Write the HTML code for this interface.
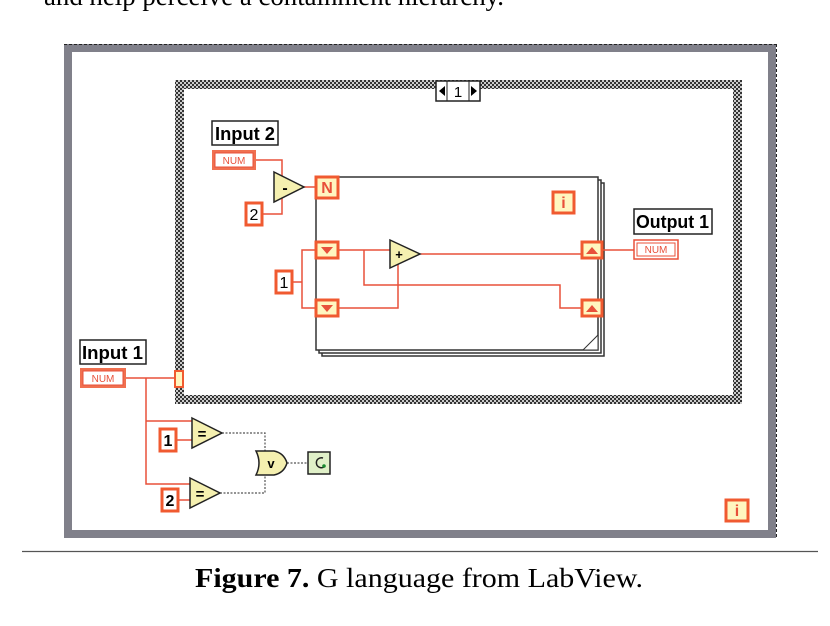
<!DOCTYPE html>
<html><head><meta charset="utf-8"><style>
html,body{margin:0;padding:0;background:#fff;width:830px;height:626px;overflow:hidden}
svg{display:block}
</style></head><body>
<svg width="830" height="626" viewBox="0 0 830 626" xmlns="http://www.w3.org/2000/svg">
<defs>
<pattern id="chk" width="4" height="4" patternUnits="userSpaceOnUse"><rect width="4" height="4" fill="#ccc"/><rect width="2" height="2" fill="#333"/><rect x="2" y="2" width="2" height="2" fill="#333"/></pattern>
</defs>
<text x="44" y="5" font-family="Liberation Serif, serif" font-size="27" textLength="460" lengthAdjust="spacingAndGlyphs" fill="#000">and help perceive a containment hierarchy.</text>
<g>
<rect x="64" y="44" width="712" height="494" fill="#80808a"/>
<rect x="72" y="52" width="696" height="478" fill="#fff"/>
<line x1="64" y1="44.5" x2="776" y2="44.5" stroke="#222" stroke-dasharray="3,2"/>
<line x1="776.5" y1="44" x2="776.5" y2="538" stroke="#222" stroke-dasharray="3,2"/>
</g>
<g>
<rect x="175" y="80" width="567" height="324" fill="url(#chk)"/>
<rect x="184" y="89" width="549" height="306" fill="#fff"/>
</g>
<g>
<rect x="436" y="81" width="44" height="20" fill="#fff" stroke="#222" stroke-width="1.5"/>
<line x1="447" y1="81" x2="447" y2="101" stroke="#222"/><line x1="469" y1="81" x2="469" y2="101" stroke="#222"/>
<polygon points="439,91 445,86 445,96" fill="#000"/><polygon points="477,91 471,86 471,96" fill="#000"/>
<text x="458" y="97" text-anchor="middle" font-family="Liberation Sans, sans-serif" font-size="15">1</text>
</g>
<g>
<rect x="322" y="183" width="282" height="173" fill="#fff" stroke="#333" stroke-width="1.5"/>
<rect x="319" y="180" width="282" height="173" fill="#fff" stroke="#333" stroke-width="1.5"/>
<rect x="316" y="177" width="282" height="173" fill="#fff" stroke="#333" stroke-width="1.5"/>
<polygon points="583,350 598,335 598,350" fill="#fff" stroke="#333"/>
</g>
<g fill="none" stroke="#e8503a" stroke-width="1.5">
<polyline points="256,160 282,160 282,180 276,180"/>
<polyline points="262,214 282,214 282,195 276,195"/>
<line x1="304" y1="187" x2="316" y2="187"/>
<polyline points="292,282 302,282"/>
<polyline points="316,250 302,250 302,308 316,308"/>
<polyline points="338,250 392,250"/>
<polyline points="364,250 364,285 560,285 560,308 582,308"/>
<polyline points="338,308 398,308 398,264"/>
<line x1="420" y1="254" x2="582" y2="254"/>
<line x1="602" y1="250" x2="634" y2="250"/>
<polyline points="126,378 178,378"/>
<polyline points="146,378 146,484 192,484"/>
<polyline points="146,421 194,421"/>
<line x1="176" y1="440" x2="194" y2="440"/>
<line x1="178" y1="500" x2="192" y2="500"/>
</g>
<g fill="none" stroke="#555" stroke-width="1.2" stroke-dasharray="2,1.5">
<polyline points="222,433 265,433 265,454"/>
<polyline points="220,493 265,493 265,472"/>
<line x1="287" y1="463" x2="308" y2="463"/>
</g>
<g font-family="Liberation Sans, sans-serif" font-weight="bold" font-size="18">
<g><rect x="212" y="121" width="66" height="24" fill="#fff" stroke="#222" stroke-width="1.5"/><text x="215" y="140" textLength="60" lengthAdjust="spacingAndGlyphs">Input 2</text></g>
<g><rect x="634" y="209" width="78" height="25" fill="#fff" stroke="#222" stroke-width="1.5"/><text x="636" y="228" textLength="73" lengthAdjust="spacingAndGlyphs">Output 1</text></g>
<g><rect x="80" y="340" width="66" height="24" fill="#fff" stroke="#222" stroke-width="1.5"/><text x="82" y="359" textLength="61" lengthAdjust="spacingAndGlyphs">Input 1</text></g>
</g>
<g font-family="Liberation Sans, sans-serif" font-size="10" fill="#e8503a" text-anchor="middle">
<g><rect x="212" y="150" width="44" height="20" fill="#f07050"/><rect x="215" y="153" width="38" height="14" fill="#fff" stroke="#e8503a"/><text x="234" y="164">NUM</text></g>
<g><rect x="80" y="368" width="46" height="20" fill="#f07050"/><rect x="83" y="371" width="40" height="14" fill="#fff" stroke="#e8503a"/><text x="103" y="382">NUM</text></g>
<g><rect x="634" y="240" width="44" height="19" fill="#fff" stroke="#e8503a" stroke-width="1.5"/><rect x="637" y="243" width="38" height="13" fill="#fff" stroke="#e8503a"/><text x="656" y="253">NUM</text></g>
</g>
<g font-family="Liberation Sans, sans-serif" font-size="16" text-anchor="middle">
<g><rect x="246" y="203" width="16" height="22" fill="#fff" stroke="#f05a30" stroke-width="3"/><text x="254" y="220">2</text></g>
<g><rect x="276" y="271" width="16" height="22" fill="#fff" stroke="#f05a30" stroke-width="3"/><text x="284" y="288">1</text></g>
<g><rect x="160" y="429" width="16" height="22" fill="#fff" stroke="#f05a30" stroke-width="3"/><text x="168" y="446" font-weight="bold">1</text></g>
<g><rect x="162" y="489" width="16" height="22" fill="#fff" stroke="#f05a30" stroke-width="3"/><text x="170" y="506" font-weight="bold">2</text></g>
<g><rect x="316" y="177" width="22" height="21" fill="#fff6c0" stroke="#f05a30" stroke-width="3"/><text x="327" y="193" fill="#e8503a" font-weight="bold">N</text></g>
<g><rect x="553" y="192" width="21" height="21" fill="#fff6c0" stroke="#f05a30" stroke-width="3"/><text x="563.5" y="208" fill="#e8503a" font-weight="bold">i</text></g>
<g><rect x="726" y="500" width="22" height="21" fill="#fff6c0" stroke="#f05a30" stroke-width="3"/><text x="737" y="516" fill="#e8503a" font-weight="bold">i</text></g>
</g>
<g>
<rect x="316" y="242" width="22" height="16" fill="#fff6c0" stroke="#f05a30" stroke-width="3"/><polygon points="321,247 333,247 327,254" fill="#e8503a"/>
<rect x="316" y="300" width="22" height="16" fill="#fff6c0" stroke="#f05a30" stroke-width="3"/><polygon points="321,305 333,305 327,312" fill="#e8503a"/>
<rect x="582" y="242" width="20" height="16" fill="#fff6c0" stroke="#f05a30" stroke-width="3"/><polygon points="586,254 598,254 592,247" fill="#e8503a"/>
<rect x="582" y="300" width="20" height="16" fill="#fff6c0" stroke="#f05a30" stroke-width="3"/><polygon points="586,312 598,312 592,305" fill="#e8503a"/>
<rect x="175" y="371" width="8" height="16" fill="#fff6c0" stroke="#f05a30" stroke-width="2"/>
</g>
<g stroke="#222" stroke-width="1.5" fill="#f5f0b0" font-family="Liberation Sans, sans-serif" font-weight="bold" text-anchor="middle">
<g><polygon points="274,172 304,187 274,202"/><text x="285" y="193" stroke="none" fill="#000" font-size="16">-</text></g>
<g><polygon points="390,240 420,254 390,268"/><text x="399" y="259" stroke="none" fill="#000" font-size="13">+</text></g>
<g><polygon points="192,418 222,433 192,448"/><text x="202" y="439" stroke="none" fill="#000" font-size="15">=</text></g>
<g><polygon points="190,478 220,493 190,508"/><text x="200" y="499" stroke="none" fill="#000" font-size="15">=</text></g>
<g><path d="M256,451 L274,451 Q284,453 287,463 Q284,473 274,475 L256,475 Q262,463 256,451 Z"/><text x="271" y="468" stroke="none" fill="#000" font-size="13">v</text></g>
<g><rect x="308" y="452" width="22" height="22" fill="#e0f0c8"/><path d="M323,458 A5,5 0 1 0 324,467" fill="none" stroke="#222" stroke-width="1.5"/><circle cx="324" cy="466" r="1.8" fill="#1a8a30" stroke="none"/></g>
</g>
<line x1="22" y1="551.5" x2="818" y2="551.5" stroke="#555" stroke-width="1.2"/>
<text x="195" y="587" font-family="Liberation Serif, serif" font-size="27" textLength="448" lengthAdjust="spacingAndGlyphs"><tspan font-weight="bold">Figure 7.</tspan>  G language from LabView.</text>
</svg>
</body></html>
